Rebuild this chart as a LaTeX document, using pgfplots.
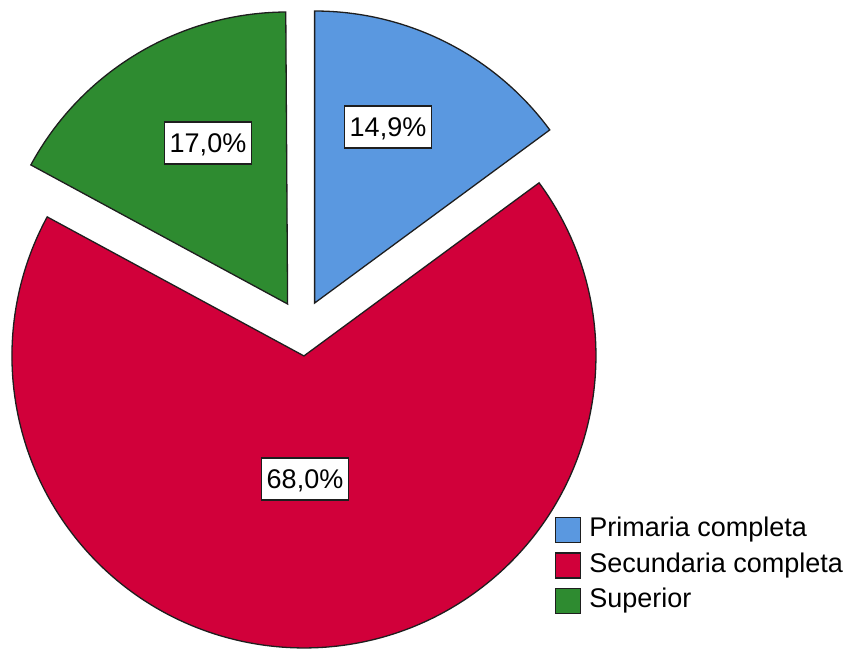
\documentclass[border=0pt]{standalone}
\usepackage{pgfplots}
\pgfplotsset{compat=1.18}
\usepackage{pgfplotstable}
\usepackage{fontspec}
\setmainfont{Liberation Sans}
\definecolor{cPrim}{HTML}{5A98E0}
\definecolor{cSec}{HTML}{D1003A}
\definecolor{cSup}{HTML}{2E8B30}
\definecolor{edge}{HTML}{1E1E1E}

% percentages of the three categories (clockwise from 12 o'clock)
\pgfplotstableread{
pct
14.9
68.0
17.0
}\piedata

\begin{document}
\begin{tikzpicture}
\pgfplotstablegetelem{0}{pct}\of\piedata \let\pA\pgfplotsretval
\pgfplotstablegetelem{1}{pct}\of\piedata \let\pB\pgfplotsretval
\pgfplotstablegetelem{2}{pct}\of\piedata \let\pC\pgfplotsretval
% angles
\pgfmathsetmacro{\aS}{90}
\pgfmathsetmacro{\aA}{\aS-3.6*\pA}
\pgfmathsetmacro{\aB}{\aA-3.6*\pB}
\pgfmathsetmacro{\aC}{\aB-3.6*\pC}
% centre, radius, explode distance
\pgfmathsetmacro{\cx}{302}
\pgfmathsetmacro{\cy}{320}
\pgfmathsetmacro{\R}{292}
\pgfmathsetmacro{\d}{28}
\pgfmathsetmacro{\mA}{(\aS+\aA)/2}
\pgfmathsetmacro{\mB}{(\aA+\aB)/2}
\pgfmathsetmacro{\mC}{(\aB+\aC)/2}
\pgfmathsetmacro{\vAx}{\cx+\d*cos(\mA)}\pgfmathsetmacro{\vAy}{\cy+\d*sin(\mA)}
\pgfmathsetmacro{\vBx}{\cx+\d*cos(\mB)}\pgfmathsetmacro{\vBy}{\cy+\d*sin(\mB)}
\pgfmathsetmacro{\vCx}{\cx+\d*cos(\mC)}\pgfmathsetmacro{\vCy}{\cy+\d*sin(\mC)}
\useasboundingbox (0,0) rectangle (858pt,648pt);
\clip (0,0) rectangle (858pt,648pt);
\begin{axis}[
  x=1pt, y=1pt, xmin=0, xmax=858, ymin=0, ymax=648,
  enlargelimits=false, hide axis, clip=false,
  xtick=\empty, ytick=\empty,
  anchor=origin, at={(0,0)},
  legend image code/.code={\draw[#1] (0pt,-12.5pt) rectangle (25pt,12.5pt);},
  legend style={at={(axis cs:555,136)}, anchor=north west, draw=none, fill=none,
    inner sep=0pt, row sep=0pt,
    font=\fontsize{27}{30}\selectfont,
    nodes={inner ysep=4.75pt, inner xsep=0pt, text height=20pt, text depth=6pt},
    /tikz/every odd column/.append style={column sep=8pt}},
  legend cell align=left,
]
\addlegendimage{fill=cPrim, draw=edge, line width=1.2pt}
\addlegendentry{Primaria completa}
\addlegendimage{fill=cSec, draw=edge, line width=1.2pt}
\addlegendentry{Secundaria completa}
\addlegendimage{fill=cSup, draw=edge, line width=1.2pt}
\addlegendentry{Superior}

\filldraw[fill=cPrim, draw=edge, line width=1.3pt, line join=miter]
  (axis cs:\vAx,\vAy) -- ++(\aS:\R pt) arc[start angle=\aS, end angle=\aA, radius=\R pt] -- cycle;
\filldraw[fill=cSec, draw=edge, line width=1.3pt, line join=miter]
  (axis cs:\vBx,\vBy) -- ++(\aA:\R pt) arc[start angle=\aA, end angle=\aB, radius=\R pt] -- cycle;
\filldraw[fill=cSup, draw=edge, line width=1.3pt, line join=miter]
  (axis cs:\vCx,\vCy) -- ++(\aB:\R pt) arc[start angle=\aB, end angle=\aC, radius=\R pt] -- cycle;

\tikzset{pl/.style={draw=edge, fill=white, line width=1.3pt, inner xsep=5pt,
  minimum height=42pt, font=\fontsize{27}{30}\selectfont, text height=19.5pt, text depth=0pt}}
\node[pl] at (axis cs:388,521) {14,9\%};
\node[pl] at (axis cs:208,505) {17,0\%};
\node[pl] at (axis cs:305,169) {68,0\%};
\end{axis}
\end{tikzpicture}
\end{document}
